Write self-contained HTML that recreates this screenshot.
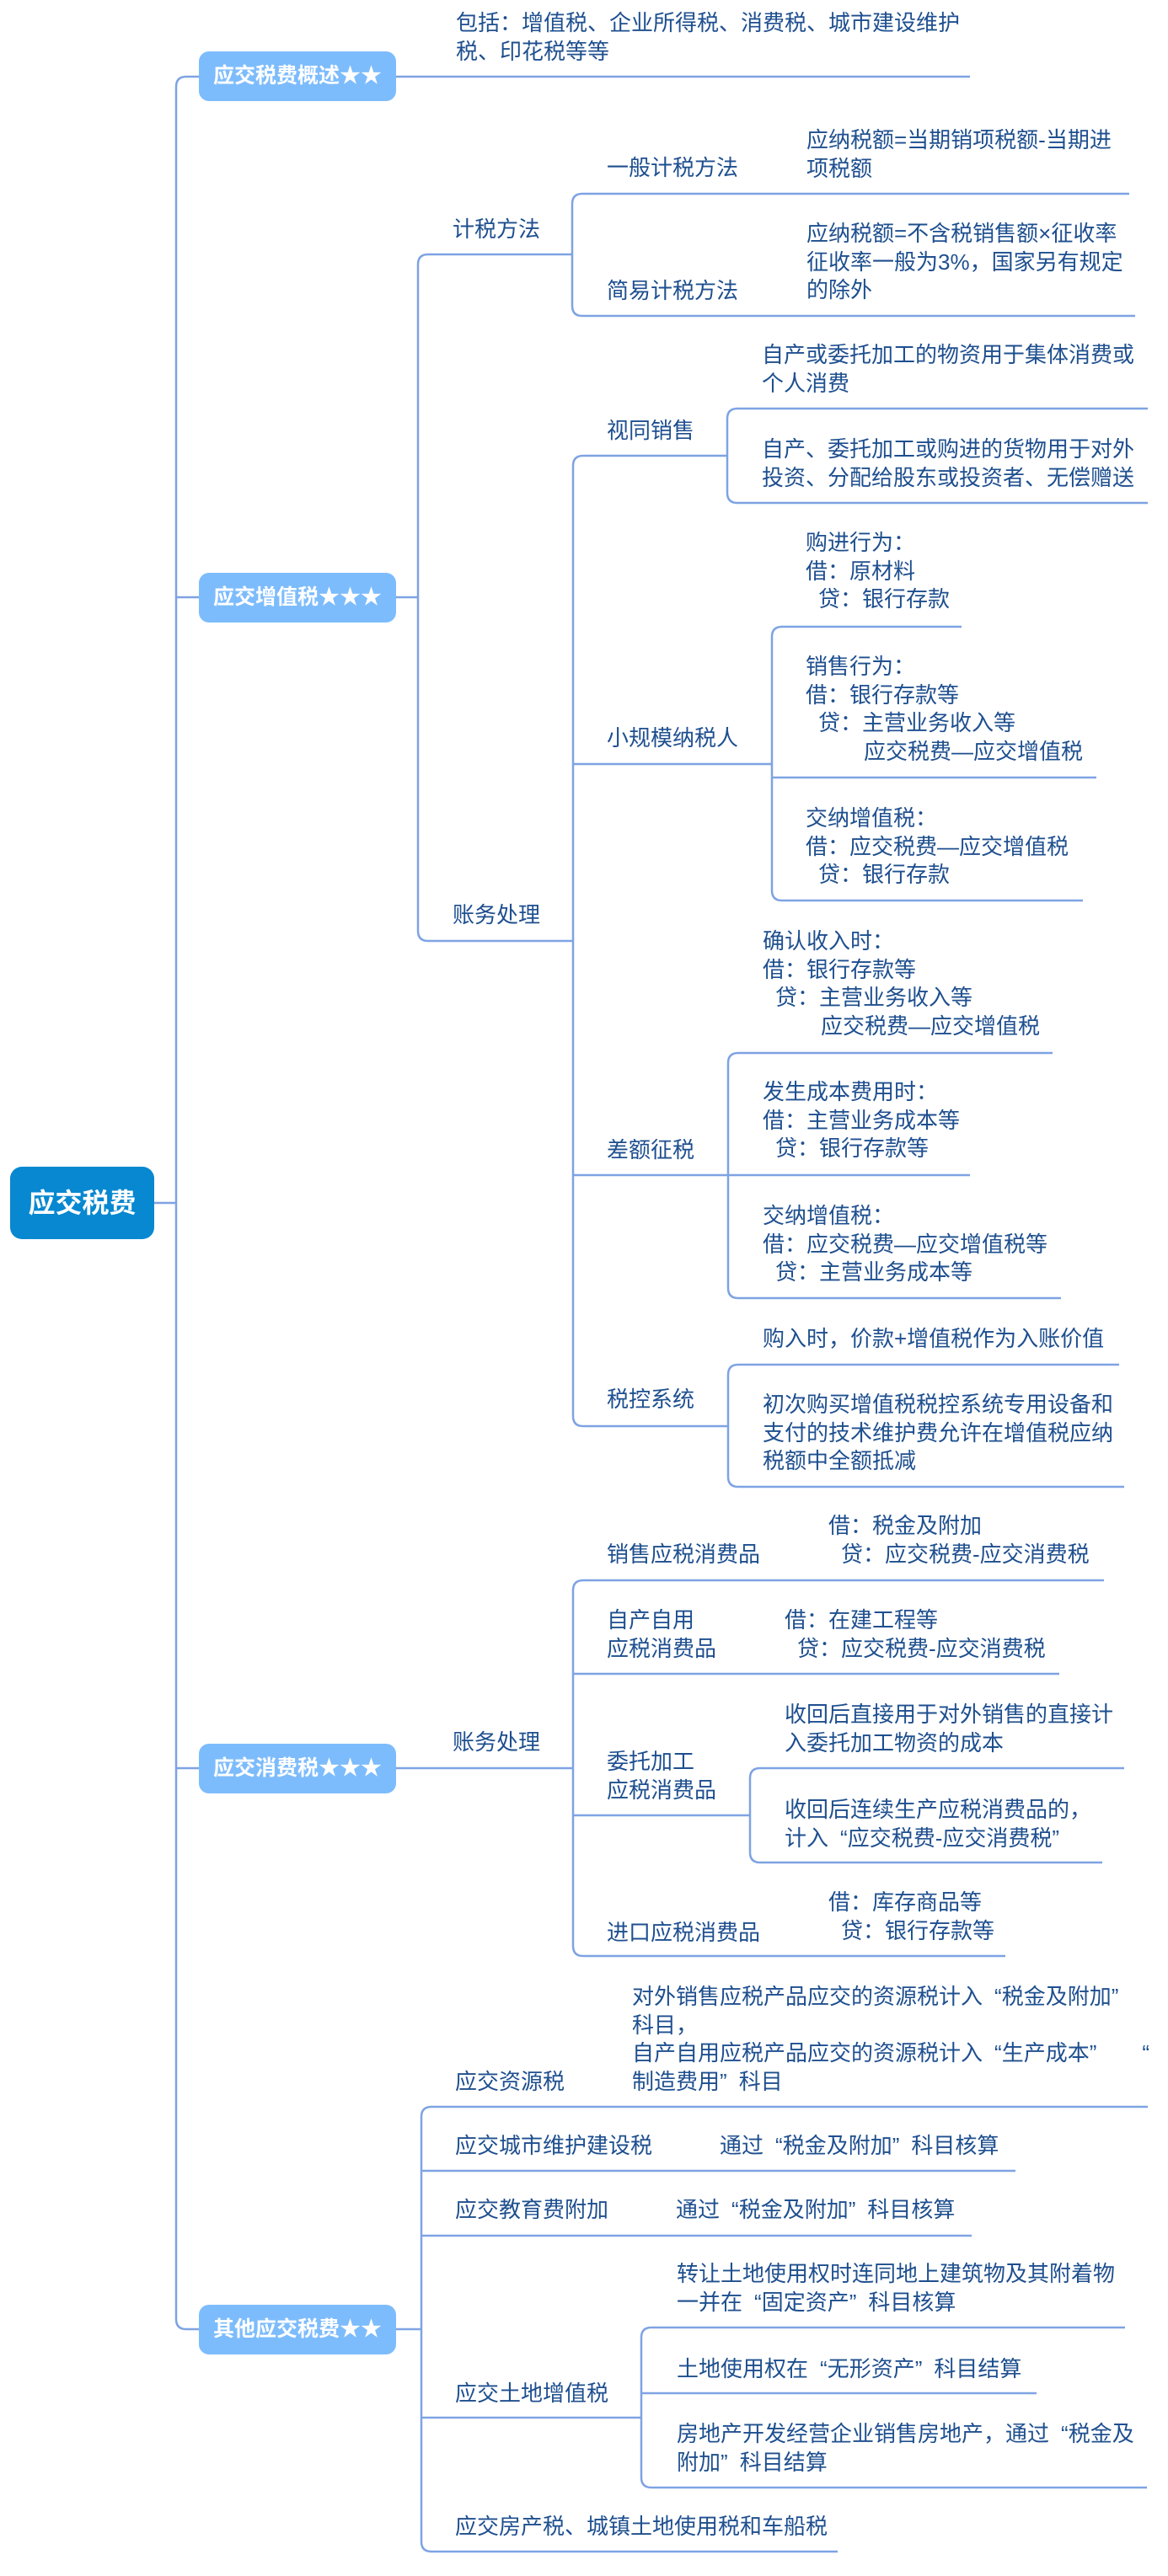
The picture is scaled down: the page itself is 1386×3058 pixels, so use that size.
<!DOCTYPE html>
<html><head><meta charset="utf-8">
<style>
html,body{margin:0;padding:0;background:#fff;}
body{width:1386px;height:3058px;position:relative;overflow:hidden;font-family:"Liberation Sans","Noto Sans CJK SC",sans-serif;}
.t{position:absolute;font-size:26px;line-height:33.5px;color:#1e4f8f;white-space:nowrap;}
.b{position:absolute;left:236px;width:234px;height:59px;background:#7dbcfc;border-radius:12px;color:#fff;font-weight:bold;font-size:25px;line-height:59px;text-align:center;white-space:nowrap;}
.i1{padding-left:15px}
.i2{padding-left:69px}
.ql{padding-left:14px}
.qr{padding-right:14px}
svg{position:absolute;left:0;top:0;}
</style></head><body>
<svg width="1386" height="3058" viewBox="0 0 1386 3058" fill="none" stroke="#7ea3e3" stroke-width="2.5">
<path d="M221 91 Q209 91 209 103 L209 2753 Q209 2765 221 2765"/>
<path d="M183 1428 H209"/>
<path d="M221 91 H1151 M209 709 H496 M209 2099 H680 M221 2765 H500"/>
<path d="M508 302 Q496 302 496 314 L496 1105 Q496 1117 508 1117"/>
<path d="M508 302 H679 M508 1117 H680"/>
<path d="M691 230 Q679 230 679 242 L679 363 Q679 375 691 375"/>
<path d="M691 230 H1340 M691 375 H1347"/>
<path d="M692 541 Q680 541 680 553 L680 1681 Q680 1693 692 1693"/>
<path d="M692 541 H863 M680 907 H916 M680 1395 H864 M692 1693 H864"/>
<path d="M875 485 Q863 485 863 497 L863 585 Q863 597 875 597"/>
<path d="M875 485 H1362 M875 597 H1362"/>
<path d="M928 744 Q916 744 916 756 L916 1057 Q916 1069 928 1069"/>
<path d="M928 744 H1141 M916 923 H1301 M928 1069 H1285"/>
<path d="M876 1250 Q864 1250 864 1262 L864 1529 Q864 1541 876 1541"/>
<path d="M876 1250 H1249 M864 1395 H1151 M876 1541 H1259"/>
<path d="M876 1620 Q864 1620 864 1632 L864 1753 Q864 1765 876 1765"/>
<path d="M876 1620 H1328 M876 1765 H1334"/>
<path d="M692 1876 Q680 1876 680 1888 L680 2310 Q680 2322 692 2322"/>
<path d="M692 1876 H1310 M680 1987 H1257 M680 2155 H890 M692 2322 H1193"/>
<path d="M902 2099 Q890 2099 890 2111 L890 2199 Q890 2211 902 2211"/>
<path d="M902 2099 H1334 M902 2211 H1308"/>
<path d="M512 2501 Q500 2501 500 2513 L500 3017 Q500 3029 512 3029"/>
<path d="M512 2501 H1362 M500 2577 H1205 M500 2654 H1153 M500 2870 H761 M512 3029 H994"/>
<path d="M773 2763 Q761 2763 761 2775 L761 2941 Q761 2953 773 2953"/>
<path d="M773 2763 H1335 M761 2841 H1230 M773 2953 H1361"/>
</svg>

<div style="position:absolute;left:12px;top:1385px;width:171px;height:86px;background:#0788d0;border-radius:14px;color:#fff;font-weight:bold;font-size:32px;line-height:86px;text-align:center;">应交税费</div>

<div class="b" style="top:61px">应交税费概述★★</div>
<div class="b" style="top:680px">应交增值税★★★</div>
<div class="b" style="top:2070px">应交消费税★★★</div>
<div class="b" style="top:2736px">其他应交税费★★</div>

<div class="t" style="left:541px;top:11px">包括：增值税、企业所得税、消费税、城市建设维护<br>税、印花税等等</div>

<div class="t" style="left:537px;top:256px">计税方法</div>
<div class="t" style="left:720px;top:183px">一般计税方法</div>
<div class="t" style="left:957px;top:150px">应纳税额=当期销项税额-当期进<br>项税额</div>
<div class="t" style="left:720px;top:329px">简易计税方法</div>
<div class="t" style="left:957px;top:261px">应纳税额=不含税销售额×征收率<br>征收率一般为3%，国家另有规定<br>的除外</div>

<div class="t" style="left:537px;top:1070px">账务处理</div>
<div class="t" style="left:720px;top:495px">视同销售</div>
<div class="t" style="left:904px;top:405px">自产或委托加工的物资用于集体消费或<br>个人消费</div>
<div class="t" style="left:904px;top:517px">自产、委托加工或购进的货物用于对外<br>投资、分配给股东或投资者、无偿赠送</div>

<div class="t" style="left:720px;top:860px">小规模纳税人</div>
<div class="t" style="left:956px;top:628px">购进行为：<br>借：原材料<br><span class="i1">贷：银行存款</span></div>
<div class="t" style="left:956px;top:775px">销售行为：<br>借：银行存款等<br><span class="i1">贷：主营业务收入等</span><br><span class="i2">应交税费—应交增值税</span></div>
<div class="t" style="left:956px;top:955px">交纳增值税：<br>借：应交税费—应交增值税<br><span class="i1">贷：银行存款</span></div>

<div class="t" style="left:720px;top:1349px">差额征税</div>
<div class="t" style="left:905px;top:1101px">确认收入时：<br>借：银行存款等<br><span class="i1">贷：主营业务收入等</span><br><span class="i2">应交税费—应交增值税</span></div>
<div class="t" style="left:905px;top:1280px">发生成本费用时：<br>借：主营业务成本等<br><span class="i1">贷：银行存款等</span></div>
<div class="t" style="left:905px;top:1427px">交纳增值税：<br>借：应交税费—应交增值税等<br><span class="i1">贷：主营业务成本等</span></div>

<div class="t" style="left:720px;top:1645px">税控系统</div>
<div class="t" style="left:905px;top:1573px">购入时，价款+增值税作为入账价值</div>
<div class="t" style="left:905px;top:1651px">初次购买增值税税控系统专用设备和<br>支付的技术维护费允许在增值税应纳<br>税额中全额抵减</div>

<div class="t" style="left:537px;top:2052px">账务处理</div>
<div class="t" style="left:720px;top:1829px">销售应税消费品</div>
<div class="t" style="left:983px;top:1795px">借：税金及附加<br><span class="i1">贷：应交税费-应交消费税</span></div>
<div class="t" style="left:720px;top:1907px">自产自用<br>应税消费品</div>
<div class="t" style="left:931px;top:1907px">借：在建工程等<br><span class="i1">贷：应交税费-应交消费税</span></div>
<div class="t" style="left:720px;top:2075px">委托加工<br>应税消费品</div>
<div class="t" style="left:931px;top:2019px">收回后直接用于对外销售的直接计<br>入委托加工物资的成本</div>
<div class="t" style="left:931px;top:2132px">收回后连续生产应税消费品的，<br>计入<span class="ql">“</span>应交税费-应交消费税<span class="qr">”</span></div>
<div class="t" style="left:720px;top:2278px">进口应税消费品</div>
<div class="t" style="left:983px;top:2242px">借：库存商品等<br><span class="i1">贷：银行存款等</span></div>

<div class="t" style="left:540px;top:2455px">应交资源税</div>
<div class="t" style="left:750px;top:2354px">对外销售应税产品应交的资源税计入<span class="ql">“</span>税金及附加<span class="qr">”</span><br>科目，<br>自产自用应税产品应交的资源税计入<span class="ql">“</span>生产成本<span class="qr">”</span>　<span class="ql">“</span><br>制造费用<span class="qr">”</span>科目</div>
<div class="t" style="left:540px;top:2531px">应交城市维护建设税</div>
<div class="t" style="left:854px;top:2531px">通过<span class="ql">“</span>税金及附加<span class="qr">”</span>科目核算</div>
<div class="t" style="left:540px;top:2607px">应交教育费附加</div>
<div class="t" style="left:802px;top:2607px">通过<span class="ql">“</span>税金及附加<span class="qr">”</span>科目核算</div>
<div class="t" style="left:540px;top:2825px">应交土地增值税</div>
<div class="t" style="left:803px;top:2683px">转让土地使用权时连同地上建筑物及其附着物<br>一并在<span class="ql">“</span>固定资产<span class="qr">”</span>科目核算</div>
<div class="t" style="left:803px;top:2796px">土地使用权在<span class="ql">“</span>无形资产<span class="qr">”</span>科目结算</div>
<div class="t" style="left:803px;top:2873px">房地产开发经营企业销售房地产，通过<span class="ql">“</span>税金及<br>附加<span class="qr">”</span>科目结算</div>
<div class="t" style="left:540px;top:2983px">应交房产税、城镇土地使用税和车船税</div>
</body></html>
